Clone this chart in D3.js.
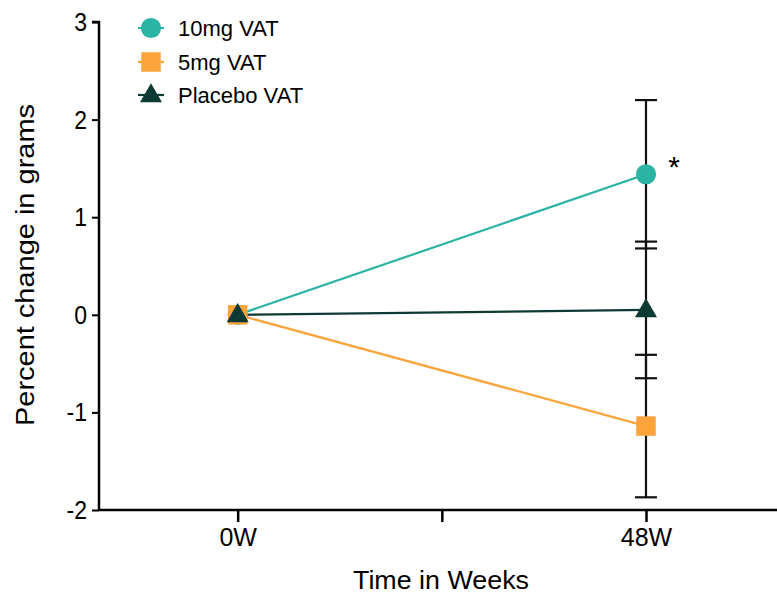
<!DOCTYPE html>
<html>
<head>
<meta charset="utf-8">
<script src="https://cdn.jsdelivr.net/npm/d3@7"></script>
<style>
  body { margin: 0; background: #fff; }
  svg { display: block; font-family: Arial, "Liberation Sans", Helvetica, sans-serif; }
  .stretch { transform-box: fill-box; transform-origin: center; transform: scaleY(1.15); }
</style>
</head>
<body>
<svg id="chart" width="777" height="596"></svg>
<script>
// ---- data ----
const timeLabels = ["0W", "48W"];
const timeWeeks = [0, 48];
const seriesNames = ["10mg VAT", "5mg VAT", "Placebo VAT"];
const seriesColors = ["#2bb3a4", "#fca43c", "#0d3a32"];
const seriesSymbols = ["circle", "square", "triangle"];
const val10mg = [0, 1.44];
const val5mg = [0, -1.14];
const valPlacebo = [0, 0.05];
const err10mg = [0, 0.76];
const err5mg = [0, 0.73];
const errPlacebo = [0, 0.70];
const yTicks = [-2, -1, 0, 1, 2, 3];
const xTicks = [0, 24, 48];
const xTickLabels = ["0W", "", "48W"];

const series = [
  { name: seriesNames[0], color: seriesColors[0], sym: seriesSymbols[0], values: val10mg, errs: err10mg },
  { name: seriesNames[1], color: seriesColors[1], sym: seriesSymbols[1], values: val5mg, errs: err5mg },
  { name: seriesNames[2], color: seriesColors[2], sym: seriesSymbols[2], values: valPlacebo, errs: errPlacebo }
];

const svg = d3.select("#chart");
const x = d3.scaleLinear().domain([-16.3, 63.4]).range([99, 777]);
const y = d3.scaleLinear().domain([-2, 3]).range([510, 22]);

// axes
const yAxis = d3.axisLeft(y).tickValues(yTicks).tickSize(7).tickPadding(5).tickFormat(d => String(d));
const gy = svg.append("g").attr("transform", "translate(99,0)").call(yAxis);
gy.select(".domain").attr("stroke", "#000").attr("stroke-width", 2.5).attr("d", `M-7,${y(3)}H0V${y(-2)}`);
gy.selectAll(".tick line").attr("stroke", "#000").attr("stroke-width", 2);
gy.selectAll(".tick text").attr("font-size", 23).attr("fill", "#000").attr("class", "stretch")
  .style("font-family", "Arial, 'Liberation Sans', sans-serif");

const xAxis = d3.axisBottom(x).tickValues(xTicks).tickSize(12).tickPadding(6)
  .tickFormat((d, i) => xTickLabels[i]);
const gx = svg.append("g").attr("transform", "translate(0,510)").call(xAxis);
gx.select(".domain").attr("stroke", "#000").attr("stroke-width", 2.5).attr("d", `M98,0H777`);
gx.selectAll(".tick line").attr("stroke", "#000").attr("stroke-width", 2.5);
gx.selectAll(".tick text").attr("font-size", 25).attr("fill", "#000")
  .style("font-family", "Arial, 'Liberation Sans', sans-serif");

// axis titles
svg.append("text").attr("x", 441).attr("y", 589).attr("text-anchor", "middle")
  .attr("font-size", 26).attr("textLength", 176).attr("lengthAdjust", "spacingAndGlyphs")
  .attr("fill", "#000").text("Time in Weeks");
svg.append("text").attr("transform", `translate(34,265) rotate(-90)`).attr("text-anchor", "middle")
  .attr("font-size", 26).attr("textLength", 322).attr("lengthAdjust", "spacingAndGlyphs")
  .attr("fill", "#000").text("Percent change in grams");

// lines
const line = d3.line().x((d, i) => x(timeWeeks[i])).y(d => y(d));
const lineOrder = [0, 2, 1];
lineOrder.forEach(k => {
  const s = series[k];
  svg.append("path").datum(s.values).attr("d", line)
    .attr("fill", "none").attr("stroke", s.color).attr("stroke-width", 2.2);
});

// error bars
series.forEach(s => {
  s.values.forEach((v, i) => {
    const e = s.errs[i];
    if (!e) return;
    const cx = x(timeWeeks[i]);
    const g = svg.append("g").attr("stroke", "#111").attr("stroke-width", 2.2);
    g.append("line").attr("x1", cx).attr("x2", cx).attr("y1", y(v + e)).attr("y2", y(v - e));
    g.append("line").attr("x1", cx - 11).attr("x2", cx + 11).attr("y1", y(v + e)).attr("y2", y(v + e));
    g.append("line").attr("x1", cx - 11).attr("x2", cx + 11).attr("y1", y(v - e)).attr("y2", y(v - e));
  });
});

// markers
const symType = { circle: d3.symbolCircle, square: d3.symbolSquare, triangle: d3.symbolTriangle };
const symSize = { circle: 320, square: 380, triangle: 210 };
function marker(g, s, cx, cy) {
  const yOff = s.sym === "triangle" ? 1 : 0;
  g.append("path").attr("d", d3.symbol().type(symType[s.sym]).size(symSize[s.sym])())
    .attr("transform", `translate(${cx},${cy + yOff})`)
    .attr("fill", s.color);
}
series.forEach(s => {
  s.values.forEach((v, i) => marker(svg, s, x(timeWeeks[i]), y(v)));
});

// asterisk
svg.append("text").attr("x", 674).attr("y", 177).attr("text-anchor", "middle")
  .attr("font-size", 30).attr("fill", "#000").text("*");

// legend
const legY = [28, 62, 95];
series.forEach((s, i) => {
  const g = svg.append("g");
  g.append("line").attr("x1", 138).attr("x2", 164).attr("y1", legY[i]).attr("y2", legY[i])
    .attr("stroke", s.color).attr("stroke-width", 2.2);
  marker(g, s, 151, legY[i]);
  g.append("text").attr("x", 178).attr("y", legY[i]).attr("dy", "0.36em")
    .attr("font-size", 22).attr("fill", "#000").text(s.name);
});
</script>
</body>
</html>
